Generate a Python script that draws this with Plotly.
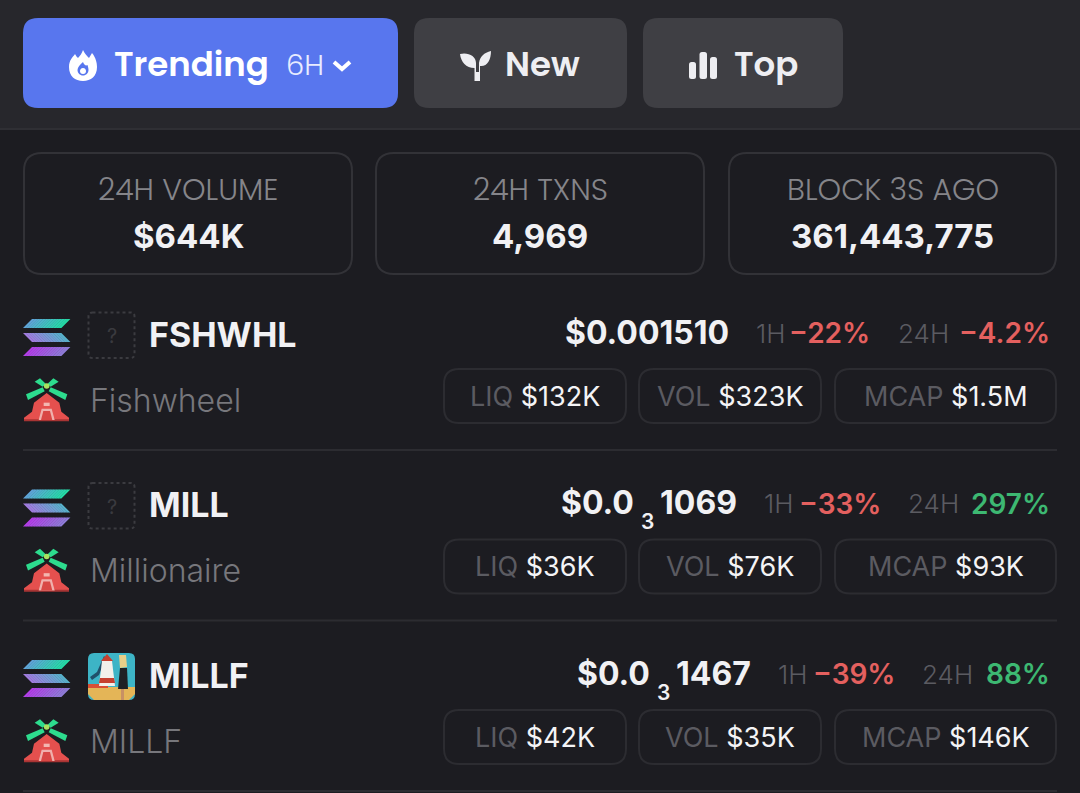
import plotly.graph_objects as go

# ---- data ----
tabs = ["Trending", "New", "Top"]
tab_period = "6H"
stat_labels = ["24H VOLUME", "24H TXNS", "BLOCK 3S AGO"]
stat_values = ["$644K", "4,969", "361,443,775"]
symbols = ["FSHWHL", "MILL", "MILLF"]
names = ["Fishwheel", "Millionaire", "MILLF"]
price_head = ["$0.001510", "$0.0", "$0.0"]
price_zeros = ["", "3", "3"]
price_tail = ["", "1069", "1467"]
change_1h = ["-22%", "-33%", "-39%"]
change_24h = ["-4.2%", "297%", "88%"]
liq = ["$132K", "$36K", "$42K"]
vol = ["$323K", "$76K", "$35K"]
mcap = ["$1.5M", "$93K", "$146K"]

# ---- style ----
BG_TOP, BG = "#27272c", "#1c1c21"
BLUE, GREY = "#5876ee", "#3f3f44"
WHITE = "#f1f1f4"
RED, GREEN = "#e4605f", "#3db872"
MUTED, DIM = "#85858a", "#5b5b61"
LINE = "#2c2c31"
HEAD = "Poppins, Inter"
SANS = "Inter"

shapes, notes = [], []


def rr(x0, y0, x1, y1, r):
    return (f"M{x0+r},{y0} L{x1-r},{y0} Q{x1},{y0} {x1},{y0+r} L{x1},{y1-r} Q{x1},{y1} {x1-r},{y1} "
            f"L{x0+r},{y1} Q{x0},{y1} {x0},{y1-r} L{x0},{y0+r} Q{x0},{y0} {x0+r},{y0} Z")


def path(d, fill=None, line=None, w=0, dash=None):
    s = dict(type="path", path=d, xref="x", yref="y", line=dict(width=w, color=line or "rgba(0,0,0,0)"))
    if fill:
        s["fillcolor"] = fill
    if dash:
        s["line"]["dash"] = dash
    shapes.append(s)


def box(x0, y0, x1, y1, r, fill=None, line=None, w=0, dash=None):
    path(rr(x0, y0, x1, y1, r), fill, line, w, dash)


def poly(pts, fill, line=None, w=0):
    path("M" + " L".join(f"{a},{b}" for a, b in pts) + " Z", fill, line, w)


def text(x, y, t, size, color=WHITE, anchor="left", weight=400, family=SANS):
    notes.append(dict(x=x, y=y, xref="x", yref="y", text=t, showarrow=False, xanchor=anchor, yanchor="middle",
                      align=anchor, borderpad=0, font=dict(family=family, size=size, color=color, weight=weight)))


def lerp(a, b, t):
    ca = [int(a[i:i+2], 16) for i in (1, 3, 5)]
    cb = [int(b[i:i+2], 16) for i in (1, 3, 5)]
    return "#%02x%02x%02x" % tuple(round(p + (q - p) * t) for p, q in zip(ca, cb))


def grad_bar(y0, y1, flip, c0, c1, xl=23.0, xr=70.0, s=9.0, n=14):
    step = (xr - xl - s) / n
    for i in range(n):
        a, b = xl + i * step, xl + (i + 1) * step + 0.4
        if flip:
            pts = [(a, y0), (b, y0), (b + s, y1), (a + s, y1)]
        else:
            pts = [(a + s, y0), (b + s, y0), (b, y1), (a, y1)]
        poly(pts, lerp(c0, c1, i / (n - 1)))


def solana(dy):
    grad_bar(319 + dy, 328 + dy, False, "#5fa4d8", "#25dba6")
    grad_bar(333 + dy, 342 + dy, True, "#a27ce0", "#58b2cc")
    grad_bar(347 + dy, 356 + dy, False, "#b23ee8", "#8f7cd8")


def windmill(dy):
    P = lambda pts: [(a / 3, b / 3 + 300 + dy) for a, b in pts]
    g = "#2ddc8e"
    poly(P([(104, 245), (120, 235), (138, 252), (128, 260)]), g)
    poly(P([(176, 245), (160, 235), (142, 252), (152, 260)]), g)
    poly(P([(78, 283), (128, 262), (134, 274), (84, 300)]), g)
    poly(P([(202, 283), (152, 262), (146, 274), (196, 300)]), g)
    poly(P([(140, 279), (178, 308), (184, 335), (207, 353), (207, 360), (72, 360), (72, 353), (96, 335), (102, 308)]), "#e5504e")
    poly(P([(72, 358), (207, 358), (207, 364), (72, 364)]), "#a83434")
    poly(P([(116, 360), (125, 326), (155, 326), (164, 360)]), "#f0b0ac")
    poly(P([(123, 360), (130, 333), (150, 333), (157, 360)]), "#d94744")
    poly(P([(131, 308), (149, 308), (149, 318), (131, 318)]), "#f3b6b0")
    cx, cy, r = 140 / 3, 258 / 3 + 300 + dy, 2.8
    shapes.append(dict(type="circle", xref="x", yref="y", x0=cx - r, x1=cx + r, y0=cy - r, y1=cy + r,
                       fillcolor="#a8e25e", line=dict(width=0)))


def unknown_icon(dy):
    box(88.5, 312.5 + dy, 134.5, 358 + dy, 4, None, "#3b3b40", 2, "dot")
    text(111.5, 336 + dy, "?", 20, "#3a3a3f", "center", 400)


def millf_icon(dy):
    y = 312 + dy
    box(88, y, 135, y + 47, 6, "#3db4c6")
    poly([(88, y + 34), (135, y + 34), (135, y + 41), (129, y + 47), (94, y + 47), (88, y + 41)], "#e4b557")
    poly([(88, y + 31), (108, y + 31), (108, y + 35), (88, y + 35)], "#d94f35")
    poly([(90, y + 24), (97, y + 19), (104, y + 3), (106, y + 5), (99, y + 22), (92, y + 27)], "#20506a")
    poly([(102, y + 8), (112, y + 8), (115, y + 33), (99, y + 33)], "#f3f0ea")
    poly([(101, y + 8), (107, y + 1), (113, y + 8)], "#c6402f")
    poly([(100, y + 25), (114, y + 25), (115, y + 30), (99, y + 30)], "#c6402f")
    poly([(120, y + 15), (127, y + 15), (128, y + 36), (118, y + 36)], "#1f2024")
    poly([(119, y + 2), (126, y + 2), (127, y + 14), (120, y + 15)], "#e8cf88")
    poly([(121, y + 36), (124, y + 36), (124, y + 47), (121, y + 47)], "#c89064")


# ---- page structure ----
shapes.append(dict(type="rect", xref="x", yref="y", x0=0, x1=1080, y0=0, y1=128, fillcolor=BG_TOP, line=dict(width=0)))
shapes.append(dict(type="rect", xref="x", yref="y", x0=0, x1=1080, y0=128, y1=130, fillcolor="#2f2f34", line=dict(width=0)))

# tabs
box(23, 18, 398, 108, 15, BLUE)
box(414, 18, 627, 108, 15, GREY)
box(643, 18, 843, 108, 15, GREY)
text(113, 64, tabs[0], 34, "#ffffff", "left", 600, HEAD)
text(285, 65, tab_period, 29, "#e8ecff", "left", 300, HEAD)
text(504, 64, tabs[1], 34, "#eeeef2", "left", 600, HEAD)
text(733, 64, tabs[2], 34, "#eeeef2", "left", 600, HEAD)
# flame
path("M83,50 C85,54 87,56 89,58 C90,56 91,55 92,53 C96,58 97,63 97,67 C97,76 91,81 83,81 "
     "C75,81 69,76 69,67 C69,60 73,57 75,54 C76,56 77,57 78,58 C80,56 82,53 83,50 Z", "#ffffff")
path("M83,62 C84,65 86,66 87.5,65 C88,67 88.5,68 88.5,70 C88.5,73 86,75.5 83,75.5 C80,75.5 77.5,73 77.5,70 "
     "C77.5,67 80,65 83,62 Z", BLUE)
path("M83,68 C85,68 86,69.5 86,71 C86,73 85,74 83,74 C81,74 80,73 80,71 C80,69.5 81,68 83,68 Z", "#ffffff")
# chevron
path("M334,62 L342,69 L350,62", None, "#ffffff", 4)
# sprout
path("M460,54 C468,52 476,56 476,63 L476,72 L479,72 L479,63 C480,56 484,53 491,51 C491,60 487,67 480,66 "
     "L480,81 L474.5,81 L474.5,68 C466,68 461,62 460,54 Z", "#eeeef2")
# bars
box(689, 62, 696, 79, 2.5, "#eeeef2")
box(699.5, 52, 707, 79, 2.5, "#eeeef2")
box(710, 57, 717, 79, 2.5, "#eeeef2")

# stat boxes
stat_boxes = [(24, 352), (376, 704), (729, 1056)]
for (a, b), lab, val in zip(stat_boxes, stat_labels, stat_values):
    box(a, 153, b, 274, 18, None, "#323237", 2)
    c = (a + b) / 2
    text(c, 189, lab, 30, MUTED, "center", 300, HEAD)
    text(c, 236, val, 33, WHITE, "center", 700, SANS)

# token rows
row_gap = 170.5
price_right = [730, 738, 752]
price_head_right = [730, 635, 651]
h1_x = [755, 763, 777]
c1_right = [871, 882, 896]
h24_x = [897, 907, 921]
pill_spans = [(444, 626), (639, 821), (835, 1056)]

for i in range(3):
    dy = i * row_gap
    solana(dy)
    windmill(dy)
    if i < 2:
        unknown_icon(dy)
    else:
        millf_icon(dy)
    text(148, 334 + dy, symbols[i], 34, WHITE, "left", 700, SANS)
    text(89, 400 + dy, names[i], 32, "#77777c", "left", 300, SANS)
    text(price_head_right[i], 332 + dy, price_head[i], 32, WHITE, "right", 700, SANS)
    if price_zeros[i]:
        text(price_head_right[i] + 12, 351 + dy, price_zeros[i], 21, WHITE, "center", 600, SANS)
        text(price_right[i], 332 + dy, price_tail[i], 32, WHITE, "right", 700, SANS)
    text(h1_x[i], 333 + dy, "1H", 26, DIM, "left", 300, SANS)
    text(c1_right[i], 333 + dy, change_1h[i].replace("-", "\u2212"), 28, RED, "right", 600, SANS)
    text(h24_x[i], 333 + dy, "24H", 26, DIM, "left", 300, SANS)
    col = RED if change_24h[i].startswith("-") else GREEN
    text(1051, 333 + dy, change_24h[i].replace("-", "\u2212"), 28, col, "right", 600, SANS)
    for (a, b), lab, val in zip(pill_spans, ["LIQ", "VOL", "MCAP"], [liq[i], vol[i], mcap[i]]):
        box(a, 369 + dy, b, 423 + dy, 15, None, LINE, 2)
        text((a + b) / 2, 396 + dy, f'<span style="color:{DIM}">{lab}</span> {val}', 27, "#f4f4f6", "center", 400, SANS)
    shapes.append(dict(type="line", xref="x", yref="y", x0=23, x1=1057, y0=450 + dy, y1=450 + dy,
                       line=dict(color=LINE, width=2)))

fig = go.Figure()
fig.update_layout(
    width=1080, height=793, margin=dict(l=0, r=0, t=0, b=0), autosize=False,
    paper_bgcolor=BG, plot_bgcolor=BG, showlegend=False,
    xaxis=dict(range=[0, 1080], visible=False, fixedrange=True),
    yaxis=dict(range=[793, 0], visible=False, fixedrange=True),
    shapes=shapes, annotations=notes,
)
fig.write_html("out.html", config=dict(displayModeBar=False),
               post_script="document.body.style.margin='0';document.body.style.overflow='hidden';document.body.style.background='#1c1c21';")
